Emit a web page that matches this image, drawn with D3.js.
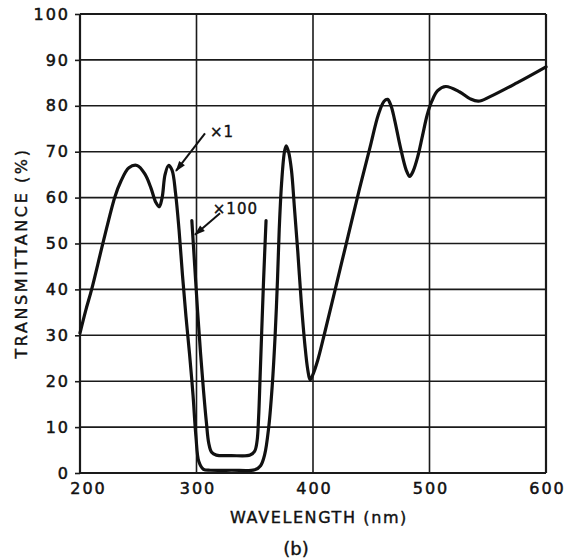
<!DOCTYPE html>
<html>
<head>
<meta charset="utf-8">
<script src="https://cdn.jsdelivr.net/npm/d3@7"></script>
<style>
  html, body { margin: 0; padding: 0; background: #fff; }
  text { font-family: "DejaVu Sans", sans-serif; fill: #111; }
</style>
</head>
<body>
<svg id="chart" width="575" height="559"></svg>
<script>
// ---- data ----
const xTicks = [200, 300, 400, 500, 600];
const yTicks = [0, 10, 20, 30, 40, 50, 60, 70, 80, 90, 100];

// x1 curve: wavelength (nm), transmittance (%)
const x1Wavelength = [200, 205, 210, 220, 230, 235, 242, 249, 256, 261, 265, 268, 270.5, 273, 276, 279, 282, 285, 288, 291, 294, 297, 299.5, 302, 306, 312, 330, 350, 355, 358.5, 362, 365, 367.5, 369.5, 371, 373, 375.5, 377, 379, 381.5, 384, 387, 390, 393, 395.5, 397.5, 400, 404, 410, 420, 430, 440, 449, 456, 461, 464, 467, 470, 475, 480, 483, 486, 490, 494, 498, 502, 507, 514, 526, 535, 542, 552, 575, 600];
const x1Transmittance = [30.5, 35.5, 40, 50.4, 60.2, 63.5, 66.5, 67, 65, 62, 59, 58, 60, 65, 67, 66, 61, 53, 43, 34, 26, 17, 8, 2.5, 0.8, 0.6, 0.6, 0.7, 1.6, 4, 10, 19, 30, 42, 53, 63, 70, 71.3, 70, 66, 58, 48, 37, 28, 22.5, 20.3, 21.5, 24.5, 30.5, 41, 51.5, 62, 71, 78, 81, 81.4, 80, 77, 71, 66, 64.6, 65.8, 69, 73.5, 78, 81, 83.3, 84.2, 83, 81.5, 81, 82, 85, 88.5];

// x100 curve
const x100Wavelength = [296, 298.5, 301, 303.5, 306, 308.5, 310.5, 313, 317, 330, 346, 350, 352, 353.3, 354.6, 356, 357.5, 359.7];
const x100Transmittance = [55, 45, 35, 26, 18, 11, 6.5, 4.5, 3.9, 3.8, 3.9, 4.8, 7, 12, 21, 31, 41.5, 55];

// annotations: label positions and arrows (tail -> tip) in data units
const annoLabels = ["×1", "×100"];
const annoLabelPos = [[311.6, 73.2], [314, 56.4]];
const annoArrows = [[[307.3, 74], [282.4, 65.8]], [[320.2, 56.6], [298.7, 51.9]]];

// ---- layout ----
const W = 575, H = 559;
const margin = { left: 80, top: 14, right: 29, bottom: 86 };
const svg = d3.select("#chart");
const x = d3.scaleLinear().domain([200, 600]).range([margin.left, W - margin.right]);
const y = d3.scaleLinear().domain([0, 100]).range([H - margin.bottom, margin.top]);

// grid
const g = svg.append("g");
g.selectAll(".hgrid").data(yTicks).join("line")
  .attr("x1", x(200)).attr("x2", x(600))
  .attr("y1", d => y(d)).attr("y2", d => y(d))
  .attr("stroke", "#1a1a1a").attr("stroke-width", d => (d === 0 || d === 100) ? 2.2 : 1.6);
g.selectAll(".vgrid").data(xTicks).join("line")
  .attr("y1", y(0)).attr("y2", y(100))
  .attr("x1", d => x(d)).attr("x2", d => x(d))
  .attr("stroke", "#1a1a1a").attr("stroke-width", d => (d === 200 || d === 600) ? 2.2 : 1.6);

// axes
const yAxis = d3.axisLeft(y).tickValues(yTicks).tickSize(5).tickPadding(5);
const ya = svg.append("g").attr("transform", `translate(${margin.left},0)`).call(yAxis);
ya.select(".domain").remove();
ya.selectAll("line").attr("stroke", "#1a1a1a").attr("stroke-width", 1.6);
ya.selectAll("text").attr("font-size", 16).attr("letter-spacing", 2)
  .attr("font-family", "DejaVu Sans").attr("fill", "#111")
  .attr("stroke", "#111").attr("stroke-width", 0.5);

const xAxis = d3.axisBottom(x).tickValues(xTicks).tickSize(0).tickPadding(10);
const xa = svg.append("g").attr("transform", `translate(0,${y(0)})`).call(xAxis);
xa.select(".domain").remove();
xa.selectAll("text").attr("font-size", 16).attr("letter-spacing", 2)
  .attr("font-family", "DejaVu Sans").attr("fill", "#111")
  .attr("stroke", "#111").attr("stroke-width", 0.5)
  .attr("dx", d => d === 200 ? 8 : 1);

// titles
svg.append("text").attr("x", 319).attr("y", 523).attr("text-anchor", "middle")
  .attr("font-size", 16).attr("letter-spacing", 1.6)
  .attr("stroke", "#111").attr("stroke-width", 0.4)
  .text("WAVELENGTH (nm)");
svg.append("text").attr("transform", `translate(27,${253}) rotate(-90)`).attr("text-anchor", "middle")
  .attr("font-size", 16).attr("letter-spacing", 2.6)
  .attr("stroke", "#111").attr("stroke-width", 0.4)
  .text("TRANSMITTANCE (%)");
svg.append("text").attr("x", 296).attr("y", 555).attr("text-anchor", "middle")
  .attr("font-size", 18).attr("stroke", "#111").attr("stroke-width", 0.4).text("(b)");

// curves
const line = d3.line().x(d => x(d[0])).y(d => y(d[1])).curve(d3.curveCatmullRom.alpha(0.5));
const x1Data = x1Wavelength.map((w, i) => [w, x1Transmittance[i]]);
const x100Data = x100Wavelength.map((w, i) => [w, x100Transmittance[i]]);
svg.append("path").datum(x1Data).attr("d", line)
  .attr("fill", "none").attr("stroke", "#111").attr("stroke-width", 3.2)
  .attr("stroke-linejoin", "round").attr("stroke-linecap", "round");
svg.append("path").datum(x100Data).attr("d", line)
  .attr("fill", "none").attr("stroke", "#111").attr("stroke-width", 3.2)
  .attr("stroke-linejoin", "round").attr("stroke-linecap", "round");

// annotations
svg.append("defs").append("marker").attr("id", "arrow")
  .attr("viewBox", "0 0 12 10").attr("refX", 11).attr("refY", 5)
  .attr("markerWidth", 12).attr("markerHeight", 9).attr("markerUnits", "userSpaceOnUse")
  .attr("orient", "auto")
  .append("path").attr("d", "M0,1 L12,5 L0,9 Z").attr("fill", "#111");
annoArrows.forEach(a => {
  svg.append("line")
    .attr("x1", x(a[0][0])).attr("y1", y(a[0][1]))
    .attr("x2", x(a[1][0])).attr("y2", y(a[1][1]))
    .attr("stroke", "#111").attr("stroke-width", 2)
    .attr("marker-end", "url(#arrow)");
});
annoLabels.forEach((t, i) => {
  svg.append("text").attr("x", x(annoLabelPos[i][0])).attr("y", y(annoLabelPos[i][1]))
    .attr("font-size", 15).attr("letter-spacing", 1)
    .attr("stroke", "#111").attr("stroke-width", 0.4).text(t);
});
</script>
</body>
</html>
